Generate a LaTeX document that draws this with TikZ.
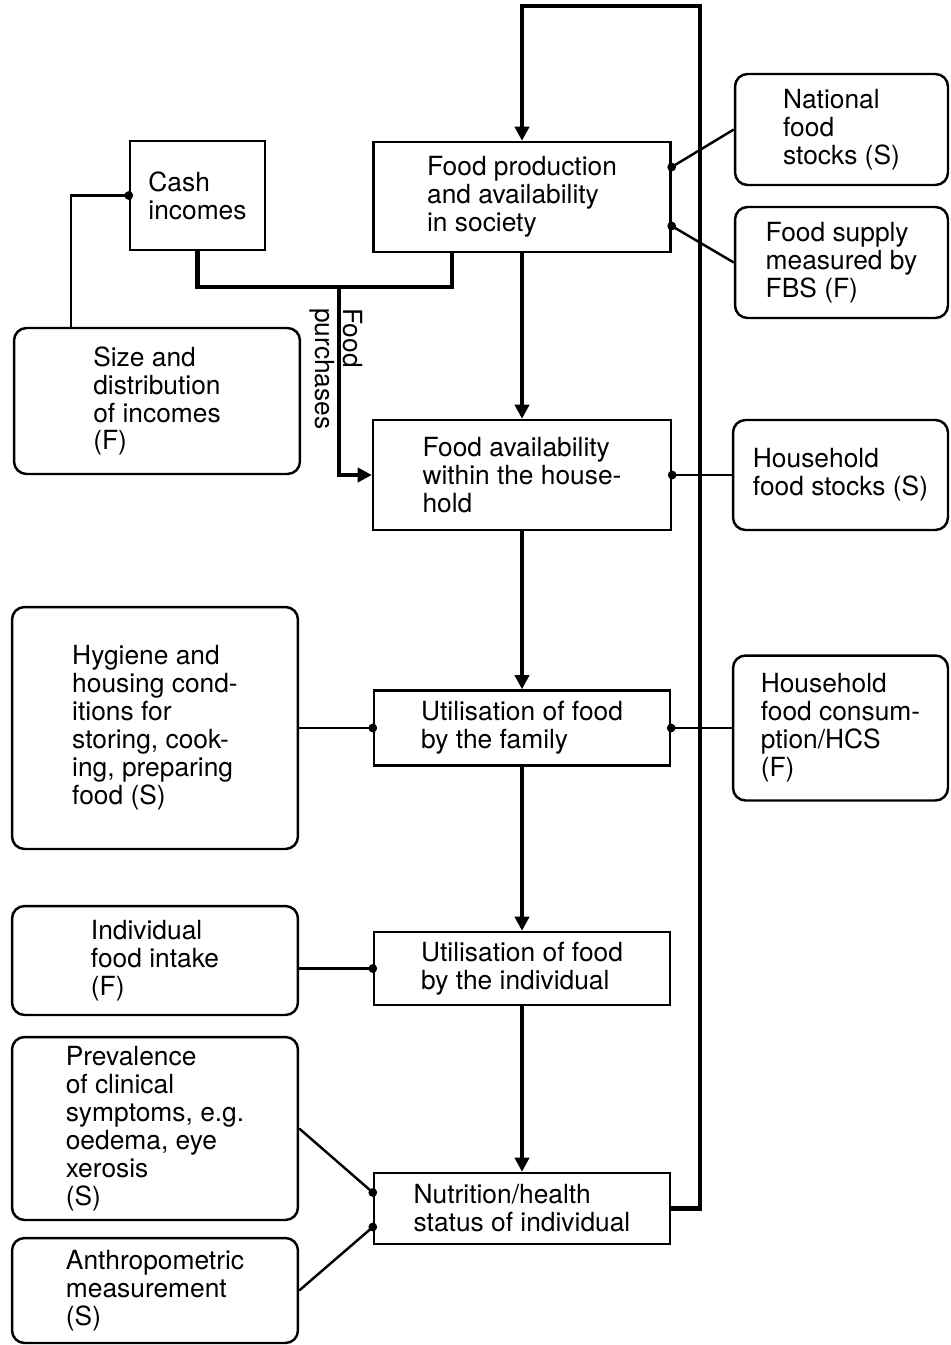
\documentclass[tikz,border=0pt]{standalone}
\usepackage{fontspec}
\setmainfont{TeX Gyre Heros}
\usetikzlibrary{arrows.meta}

\begin{document}
\begin{tikzpicture}[x=0.02cm,y=-0.02cm,
  every node/.style={font=\fontsize{15}{15.9}\selectfont},
  box/.style={draw,line width=1.4pt,inner sep=0pt,align=left},
  rbox/.style={box,rounded corners=0.25cm},
  flow/.style={line width=2.4pt,-{Triangle[length=8pt,width=8pt]}},
  feed/.style={line width=2.4pt},
  link/.style={line width=1.4pt}]
  \useasboundingbox (0,0) rectangle (950,1345);
  \node[box,minimum width=5.94cm,minimum height=2.2cm] (prod) at (522,197) {Food production\\and availability\\in society};
  \node[box,minimum width=2.7cm,minimum height=2.18cm] (cash) at (197.5,195.5) {Cash\\incomes};
  \node[rbox,minimum width=5.72cm,minimum height=2.92cm] (size) at (157,401) {Size and\\distribution\\of incomes\\(F)};
  \node[rbox,minimum width=4.26cm,minimum height=2.22cm] (natl) at (841.5,129.5) {National\\food\\stocks (S)};
  \node[rbox,minimum width=4.26cm,minimum height=2.22cm] (fbs) at (841.5,262.5) {Food supply\\measured by\\FBS (F)};
  \node[box,minimum width=5.96cm,minimum height=2.2cm] (avail) at (522,475) {Food availability\\within the house-\\hold};
  \node[rbox,minimum width=4.3cm,minimum height=2.2cm] (hhstock) at (840.5,475) {Household\\food stocks (S)};
  \node[rbox,minimum width=5.72cm,minimum height=4.84cm] (hyg) at (155,728) {Hygiene and\\housing cond-\\itions for\\storing, cook-\\ing, preparing\\food (S)};
  \node[box,minimum width=5.92cm,minimum height=1.5cm] (family) at (522,728) {Utilisation of food\\by the family};
  \node[rbox,minimum width=4.3cm,minimum height=2.9cm] (hcs) at (840.5,728) {Household\\food consum-\\ption/HCS\\(F)};
  \node[rbox,minimum width=5.72cm,minimum height=2.18cm] (intake) at (155,960.5) {Individual\\food intake\\(F)};
  \node[box,minimum width=5.92cm,minimum height=1.46cm] (indiv) at (522,968.5) {Utilisation of food\\by the individual};
  \node[rbox,minimum width=5.72cm,minimum height=3.66cm] (prev) at (155,1128.5) {Prevalence\\of clinical\\symptoms, e.g.\\oedema, eye\\xerosis\\(S)};
  \node[rbox,minimum width=5.72cm,minimum height=2.1cm] (anthro) at (155,1290.5) {Anthropometric\\measurement\\(S)};
  \node[box,minimum width=5.92cm,minimum height=1.42cm] (nutr) at (522,1208.5) {Nutrition/health\\status of individual};
  \node[rotate=-90,anchor=south west,inner sep=1pt] (lblfood) at (341,306) {Food};
  \node[rotate=-90,anchor=north west,inner sep=1pt] (lblpurch) at (337,306) {purchases};
  \coordinate (join) at (339,287);
  \coordinate (top) at (700,6);
  % main flow
  \draw[flow] (prod) -- (avail);
  \draw[flow] (avail) -- (family);
  \draw[flow] (family) -- (indiv);
  \draw[flow] (indiv) -- (nutr);
  \draw[flow] (nutr.east) -| (top) -| (prod.north);
  % incomes and purchases
  \draw[feed] (cash.south) |- (join) -| ([xshift=1.6cm]prod.south west);
  \draw[flow] (join) |- (avail.west);
  \draw[link] (cash.west) -| ([xshift=1.16cm]size.north west);
  \fill (cash.west) circle (2.5pt);
  % measurements
  \draw[link] ([yshift=0.6cm]prod.east) -- (natl.west);
  \draw[link] ([yshift=-0.58cm]prod.east) -- (fbs.west);
  \fill ([yshift=0.6cm]prod.east) circle (2.5pt);
  \fill ([yshift=-0.58cm]prod.east) circle (2.5pt);
  \draw[link] (avail.east) -- (hhstock.west);
  \fill (avail.east) circle (2.5pt);
  \draw[link] (family.east) -- (hcs.west);
  \fill (family.east) circle (2.5pt);
  \draw[link] (hyg.east) -- (family.west);
  \fill (family.west) circle (2.5pt);
  \draw[link] (intake.east |- indiv.west) -- (indiv.west);
  \fill (indiv.west) circle (2.5pt);
  \draw[link] (prev.east) -- ([yshift=0.32cm]nutr.west);
  \draw[link] (anthro.east) -- ([yshift=-0.37cm]nutr.west);
  \fill ([yshift=0.32cm]nutr.west) circle (2.5pt);
  \fill ([yshift=-0.37cm]nutr.west) circle (2.5pt);
\end{tikzpicture}
\end{document}
